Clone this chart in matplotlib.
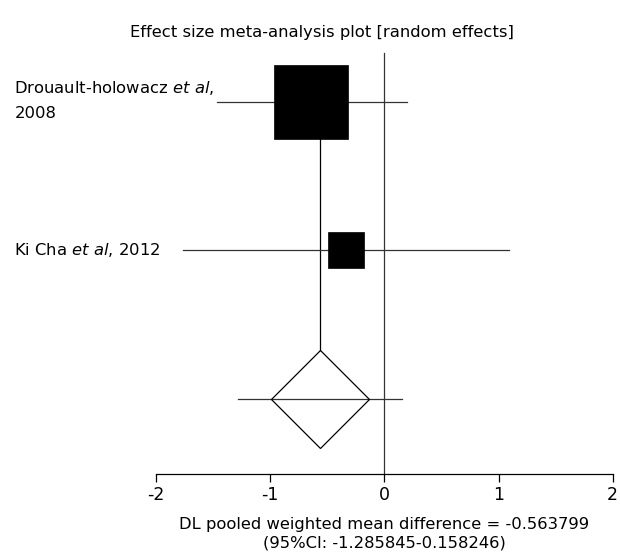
import matplotlib.pyplot as plt

# study data
studies = ['Drouault-holowacz $\\it{et\\ al}$,\n2008', 'Ki Cha $\\it{et\\ al}$, 2012']
effects = [-0.64, -0.34]
ci_low = [-1.47, -1.765]
ci_high = [0.20, 1.09]
box_sizes = [53.3, 26.3]  # marker size in points (weight)
pooled = -0.563799
pooled_low = -1.285845
pooled_high = 0.158246
xticks = [-2, -1, 0, 1, 2]

rows = [3, 2]
pooled_row = 1

fig = plt.figure(figsize=(6.2, 5.6), dpi=100)
ax = fig.add_axes([0.2516, 0.1536, 0.7366, 0.775])
ax.set_xlim(-2, 2)
ax.set_ylim(0.495, 3.417)

# null line
ax.plot([0, 0], [0.495, 3.33], color='#333333', lw=0.9)
# pooled line down to diamond
ax.plot([pooled, pooled], [pooled_row + 0.33, rows[0]], color='black', lw=0.9, zorder=1)

for r, e, lo, hi, s in zip(rows, effects, ci_low, ci_high, box_sizes):
    ax.plot([lo, hi], [r, r], color='#333333', lw=0.9, zorder=2)
    ax.plot(e, r, marker='s', ms=s, mfc='black', mec='black', mew=0.5, zorder=3)

ax.plot([pooled_low, pooled_high], [pooled_row, pooled_row], color='#333333', lw=0.9, zorder=2)
ax.plot(pooled, pooled_row, marker='D', ms=50, mfc='none', mec='black', mew=0.9, zorder=3)

for r, name in zip(rows, studies):
    yy = r
    if '\n' in name:
        yy = r + 0.01
    ax.text(-3.24, yy, name, fontsize=11.8, ha='left', va='center', linespacing=1.75)

for s in ['top', 'right', 'left']:
    ax.spines[s].set_visible(False)
ax.spines['bottom'].set_linewidth(0.9)
ax.set_yticks([])
ax.set_xticks(xticks)
ax.set_xticklabels([str(t) for t in xticks])
ax.tick_params(axis='x', length=6, width=0.9, labelsize=12.5, pad=3)
ax.set_xlabel('DL pooled weighted mean difference = -0.563799\n(95%CI: -1.285845-0.158246)',
              fontsize=11.8, linespacing=1.3, labelpad=9)

fig.text(322 / 620, 1 - 32 / 560, 'Effect size meta-analysis plot [random effects]',
         ha='center', va='center', fontsize=11.8)

fig.savefig('out.png', dpi=100)
